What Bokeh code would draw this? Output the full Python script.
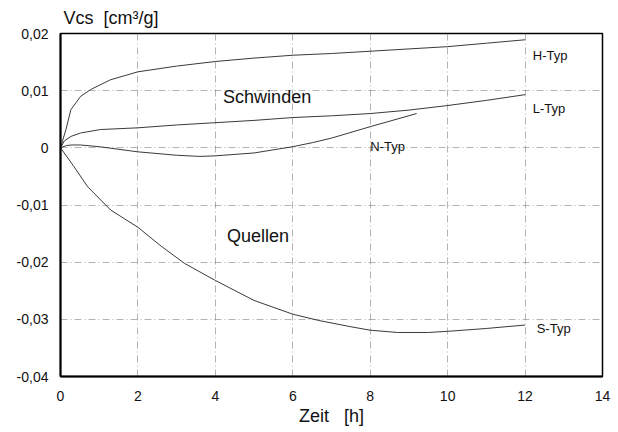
from bokeh.plotting import figure
from bokeh.models import Label, FixedTicker, CustomJSTickFormatter
from bokeh.embed import file_html
from bokeh.resources import INLINE

# Time axis values [h] and specific volume change Vcs [cm^3/g] per type
h_x = [0, 0.14, 0.27, 0.52, 0.78, 1.29, 2, 3, 4, 5, 6, 7, 8, 9, 10, 11, 12]
h_y = [0, 0.0032, 0.0067, 0.009, 0.0102, 0.0119, 0.0133, 0.0143, 0.0151, 0.0157, 0.0162, 0.0165, 0.0169, 0.0173, 0.0177, 0.0183, 0.0189]

l_x = [0, 0.1, 0.27, 0.52, 1.03, 2, 3, 4, 5, 6, 7, 8, 9, 10, 11, 12]
l_y = [0, 0.0012, 0.002, 0.0026, 0.0032, 0.0035, 0.004, 0.0044, 0.0048, 0.0053, 0.0056, 0.006, 0.0066, 0.0074, 0.0083, 0.0093]

n_x = [0, 0.15, 0.3, 0.52, 1, 2, 3, 3.6, 4, 5, 6, 6.5, 7, 8, 9.2]
n_y = [0, 0.0004, 0.0005, 0.0005, 0.0002, -0.0007, -0.0013, -0.0015, -0.0014, -0.0009, 0.0002, 0.0009, 0.0017, 0.0037, 0.006]

s_x = [0, 0.35, 0.7, 1.3, 2, 2.6, 3.2, 4, 5, 6, 6.67, 7.5, 8, 8.7, 9.5, 10, 11, 12]
s_y = [0, -0.0033, -0.0068, -0.0109, -0.0139, -0.0172, -0.0202, -0.0232, -0.0267, -0.0291, -0.0302, -0.0313, -0.0319, -0.0323, -0.0323, -0.0321, -0.0316, -0.031]

x_ticks = [0, 2, 4, 6, 8, 10, 12, 14]
y_ticks = [-0.04, -0.03, -0.02, -0.01, 0, 0.01, 0.02]

NB = "\u00a0"

p = figure(width=618, height=432, output_backend="svg", toolbar_location=None,
           x_range=(0, 14), y_range=(-0.04, 0.02),
           min_border_left=60, min_border_right=16, min_border_top=0, min_border_bottom=56)
p.background_fill_color = "white"
p.border_fill_color = "white"
p.outline_line_color = "black"
p.outline_line_width = 1.5

# Vertical axis caption above the plot frame
p.title.text = f"Vcs{NB}{NB}[cm³/g]"
p.title.align = "left"
p.title.offset = 3
p.title.text_font = "Liberation Sans"
p.title.text_font_style = "normal"
p.title.text_font_size = "18px"
p.title.text_color = "#111111"
p.title.standoff = 11

p.xaxis.ticker = FixedTicker(ticks=x_ticks)
p.yaxis.ticker = FixedTicker(ticks=y_ticks)
p.yaxis.formatter = CustomJSTickFormatter(code="""
    if (Math.abs(tick) < 1e-9) return '0';
    return tick.toFixed(2).replace('.', ',');
""")
for ax in (p.xaxis, p.yaxis):
    ax.axis_line_color = "black"
    ax.axis_line_width = 2
    ax.major_tick_line_color = None
    ax.minor_tick_line_color = None
    ax.major_label_text_font = "Liberation Sans"
    ax.major_label_text_font_size = "14px"
    ax.major_label_text_color = "#111111"
p.xaxis.major_label_standoff = 8
p.yaxis.major_label_standoff = 6

p.xaxis.axis_label = f"Zeit{NB}{NB}{NB}[h]"
p.xaxis.axis_label_text_font = "Liberation Sans"
p.xaxis.axis_label_text_font_style = "normal"
p.xaxis.axis_label_text_font_size = "18px"
p.xaxis.axis_label_text_color = "#111111"
p.xaxis.axis_label_standoff = 2

p.grid.grid_line_color = "#777777"
p.grid.grid_line_dash = "7 3 1 3"
p.grid.grid_line_alpha = 0.55
p.grid.grid_line_width = 1

for xs, ys in ((h_x, h_y), (l_x, l_y), (n_x, n_y), (s_x, s_y)):
    p.line(xs, ys, line_color="#3a3a3a", line_width=1)

def add_label(x, y, text, size):
    p.add_layout(Label(x=x, y=y, text=text,
                       text_font="Liberation Sans", text_font_size=size,
                       text_color="#111111", text_baseline="middle"))

add_label(12.2, 0.0161, "H-Typ", "13px")
add_label(12.2, 0.0069, "L-Typ", "13px")
add_label(8.0, 0.0002, "N-Typ", "13px")
add_label(12.3, -0.0316, "S-Typ", "13px")
add_label(4.2, 0.0089, "Schwinden", "18px")
add_label(4.3, -0.0155, "Quellen", "18px")

open("out.html", "w").write(file_html(p, INLINE))
